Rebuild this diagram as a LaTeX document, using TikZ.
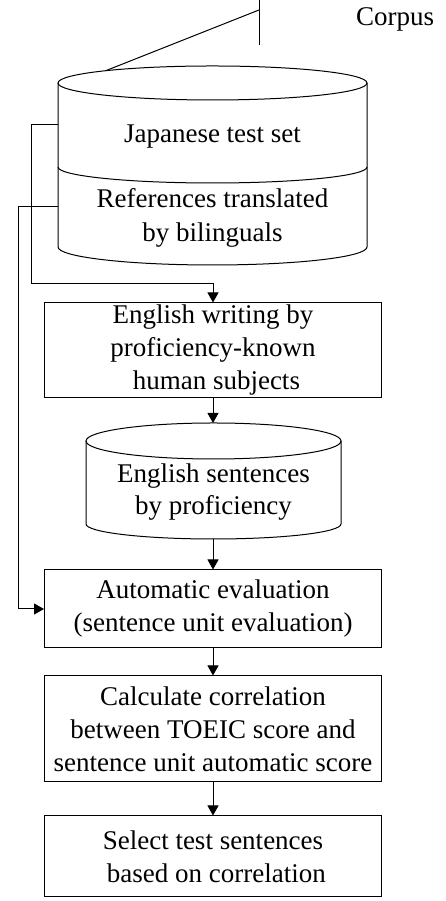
\documentclass[tikz,border=0pt]{standalone}
\usepackage{fontspec}
\setmainfont{Liberation Serif}
\usetikzlibrary{arrows.meta}
\tikzset{
  procbox/.style={draw, line width=1pt, minimum width=337pt, align=center, inner sep=0pt},
  dbtext/.style={align=center, inner sep=0pt},
  arr/.style={line width=1pt, -{Triangle[length=10pt,width=11pt]}}
}

\begin{document}
\begin{tikzpicture}[x=1pt, y=1pt, font=\fontsize{27}{33}\selectfont, line width=1pt]
			%%%%% START %%%%%
			\useasboundingbox (0,0) rectangle (445,901);
			
			% corpus
			\node (corpus) at (395,882) {Corpus};
			\draw (259,901) -- (259,856);
			\draw (259,891) -- (105,830);
			
			% big database
			\draw[fill=white] (212.5,818) ellipse (154.5 and 17);
			\draw (58,818) -- (58,654) arc (180:360:154.5 and 18) -- (367,818);
			\draw (58,734) arc (180:360:154.5 and 16);
			\coordinate (dbJ) at (58,776);
			\coordinate (dbR) at (58,694);
			\node[dbtext, anchor=base] (jtest) at (212.5,758) {Japanese test set};
			\node[dbtext, anchor=base] (refs) at (212.5,693) {References translated};
			\node[dbtext, anchor=base] (refs2) at (212.5,659) {by bilinguals};
			
			% writing
			\node[procbox, minimum height=95pt] (writing) at (213,550.5) {English writing by\\proficiency-known\\\ human subjects};
			
			% sentence database
			\draw (213.5,460) ellipse (127.5 and 18);
			\draw (86,460) -- (86,377) arc (180:360:127.5 and 15) -- (341,460);
			\coordinate (enTop) at (213,478);
			\coordinate (enBot) at (213,362);
			\node[dbtext, anchor=base] (ensent) at (213.5,418) {English sentences};
			\node[dbtext, anchor=base] (ensent2) at (213.5,386) {by proficiency};
			
			% evaluation steps
			\node[procbox, minimum height=78pt] (autoeval) at (213,292) {Automatic evaluation\\(sentence unit evaluation)};
			\node[procbox, minimum height=106pt] (corr) at (213,172) {Calculate correlation\\between TOEIC score and\\sentence unit automatic score};
			\node[procbox, minimum height=81pt] (select) at (213,44.5) {Select test sentences\\\ based on correlation};
			
			% connectors
			\draw[arr] (dbJ) -- ++(-27,0) |- ([yshift=19pt]writing.north) -- (writing.north);
			\draw[arr] (dbR) -- ++(-40,0) |- (autoeval.west);
			\draw[arr] (writing.south) -- (enTop);
			\draw[arr] (enBot) -- (autoeval.north);
			\draw[arr] (autoeval.south) -- (corr.north);
			\draw[arr] (corr.south) -- (select.north);
			
			%%%%% END %%%%%
\end{tikzpicture}
\end{document}
